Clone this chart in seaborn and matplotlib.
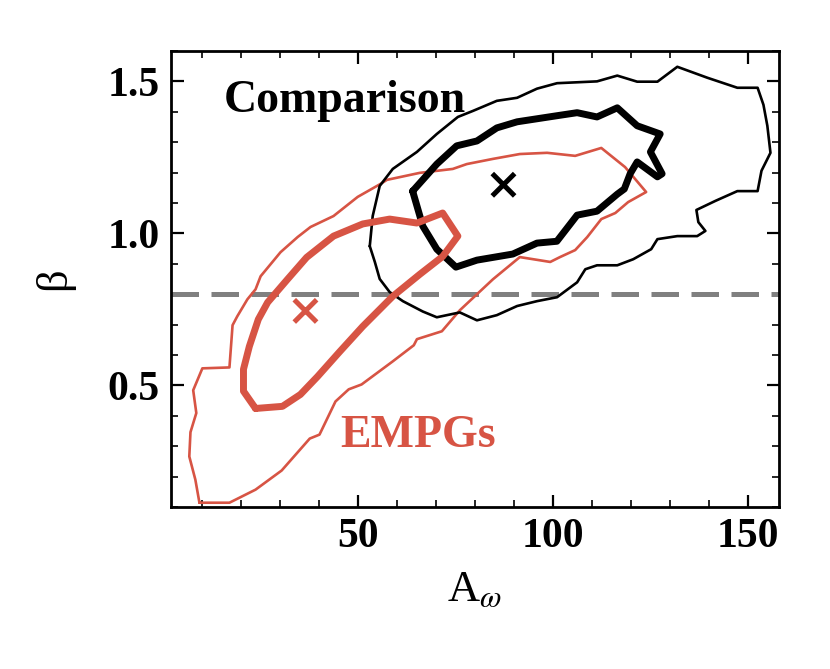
import numpy as np
import pandas as pd
import matplotlib
matplotlib.use("Agg")
import matplotlib.pyplot as plt
from matplotlib.ticker import MultipleLocator, FixedLocator
import seaborn as sns

# ---- data ----
comp_outer_x = [53.0, 53.75, 55.55, 58.9, 65.1, 70.2, 75.6, 79.5, 85.6, 90.8, 95.9, 101.05, 111.3, 116.5,
                121.6, 126.8, 131.9, 139.6, 147.3, 152.5, 154.0, 155.0, 155.8, 153.5, 152.5, 147.3, 141.7,
                136.8, 137.3, 139.1, 137.0, 131.9, 126.8, 125.2, 120.6, 116.5, 111.3, 108.3, 106.2, 101.05,
                95.9, 90.8, 85.6, 80.5, 76.1, 70.2, 66.6, 61.5, 58.1, 55.55, 54.3]
comp_outer_y = [0.958, 1.057, 1.156, 1.212, 1.268, 1.327, 1.383, 1.403, 1.436, 1.446, 1.476, 1.494, 1.500, 1.519,
                1.499, 1.499, 1.548, 1.512, 1.479, 1.479, 1.423, 1.354, 1.265, 1.206, 1.139, 1.139, 1.107,
                1.077, 1.037, 1.008, 0.991, 0.991, 0.981, 0.948, 0.915, 0.895, 0.895, 0.882, 0.839, 0.790,
                0.777, 0.761, 0.731, 0.714, 0.740, 0.724, 0.743, 0.777, 0.807, 0.850, 0.906]

comp_inner_x = [64.0, 66.6, 70.2, 75.1, 80.5, 89.7, 95.9, 101.0, 106.2, 111.3, 116.5, 118.3, 119.8, 121.6,
                126.8, 128.0, 125.0, 127.5, 121.6, 116.5, 111.3, 106.2, 101.0, 90.8, 85.6, 80.5, 75.3, 70.2]
comp_inner_y = [1.139, 1.024, 0.948, 0.889, 0.912, 0.932, 0.968, 0.974, 1.060, 1.073, 1.129, 1.146, 1.196, 1.235,
                1.186, 1.196, 1.268, 1.327, 1.354, 1.413, 1.383, 1.397, 1.387, 1.367, 1.347, 1.304, 1.288, 1.228]

empg_outer_x = [9.3, 17.0, 23.7, 30.4, 37.6, 40.1, 44.2, 47.6, 50.9, 58.9, 64.3, 65.1, 71.5, 76.1, 84.6, 91.5,
                99.3, 101.8, 105.7, 108.8, 112.4, 116.0, 119.3, 123.9, 118.5, 112.4, 105.7, 98.5, 91.5, 84.6,
                77.9, 74.3, 65.8, 57.4, 55.8, 49.9, 43.7, 37.8, 34.5, 30.1, 25.0, 23.7, 21.6, 19.0, 17.8, 17.0,
                10.05, 7.7, 8.5, 7.0, 6.7, 8.25]
empg_outer_y = [0.114, 0.114, 0.157, 0.220, 0.325, 0.338, 0.447, 0.487, 0.503, 0.579, 0.632, 0.652, 0.678, 0.747,
                0.849, 0.922, 0.906, 0.922, 0.945, 0.988, 1.047, 1.067, 1.103, 1.136, 1.218, 1.281, 1.255, 1.265,
                1.261, 1.245, 1.228, 1.212, 1.199, 1.176, 1.163, 1.120, 1.057, 1.021, 0.988, 0.938, 0.859, 0.816,
                0.783, 0.727, 0.698, 0.559, 0.556, 0.484, 0.409, 0.346, 0.266, 0.190]

empg_inner_x = [23.7, 30.6, 35.2, 39.6, 45.3, 51.2, 58.9, 65.8, 71.7, 75.6, 71.7, 65.1, 58.1, 51.2, 43.7, 36.8,
                31.9, 26.8, 24.4, 22.1, 20.6, 20.6]
empg_inner_y = [0.424, 0.431, 0.470, 0.529, 0.611, 0.694, 0.793, 0.865, 0.924, 0.991, 1.067, 1.034, 1.047, 1.031,
                0.991, 0.921, 0.849, 0.773, 0.717, 0.628, 0.553, 0.481]

best_names = ["Comparison", "EMPGs"]
best_x = [87.3, 36.5]
best_y = [1.16, 0.745]
beta_ref = 0.8

x_ticks = [50, 100, 150]
y_ticks = [0.5, 1.0, 1.5]

RED = "#d75444"
BLACK = "black"

sns.set_theme(style="ticks")
plt.rcParams["font.family"] = ["Liberation Serif", "DejaVu Serif"]
plt.rcParams["mathtext.fontset"] = "stix"
for k in ["text.color", "axes.labelcolor", "xtick.color", "ytick.color", "axes.edgecolor"]:
    plt.rcParams[k] = "black"

fig = plt.figure(figsize=(8.3, 6.69), dpi=100)
ax = fig.add_axes([0.206, 0.2422, 0.7326, 0.6816])


def closed(xs, ys):
    return pd.DataFrame({"x": list(xs) + [xs[0]], "y": list(ys) + [ys[0]]})


for xs, ys, col, lw in [
    (empg_outer_x, empg_outer_y, RED, 1.9),
    (comp_outer_x, comp_outer_y, BLACK, 1.9),
    (comp_inner_x, comp_inner_y, BLACK, 5.0),
    (empg_inner_x, empg_inner_y, RED, 5.0),
]:
    d = closed(xs, ys)
    sns.lineplot(data=d, x="x", y="y", sort=False, estimator=None, color=col, lw=lw, ax=ax)

ax.axhline(beta_ref, color="#808080", lw=3.6, dashes=(5.5, 2.5), zorder=1)

sns.scatterplot(x=best_x, y=best_y, hue=best_names, palette=[BLACK, RED], marker="x",
                s=260, linewidth=3.6, legend=False, ax=ax, zorder=5)

ax.text(15.5, 1.40, "Comparison", color=BLACK, fontsize=33, fontweight="bold",
        ha="left", va="baseline")
ax.text(45.3, 0.297, "EMPGs", color=RED, fontsize=33, fontweight="bold",
        ha="left", va="baseline")

ax.set_xlim(2, 158)
ax.set_ylim(0.1, 1.6)
ax.xaxis.set_major_locator(FixedLocator(x_ticks))
ax.yaxis.set_major_locator(FixedLocator(y_ticks))
ax.xaxis.set_minor_locator(MultipleLocator(10))
ax.yaxis.set_minor_locator(MultipleLocator(0.1))
ax.tick_params(which="both", direction="in", top=True, right=True, color="black", labelcolor="black")
ax.tick_params(which="major", length=9, width=1.6, labelsize=30, pad=8)
ax.tick_params(which="minor", length=5, width=1.2)
ax.set_xticklabels([str(v) for v in x_ticks], fontweight="bold")
ax.set_yticklabels([f"{v:.1f}" for v in y_ticks], fontweight="bold")

for s in ax.spines.values():
    s.set_linewidth(2.0)
    s.set_color("black")

ax.set_xlabel(r"A$_{\omega}$", fontsize=32, labelpad=10, color="black")
ax.set_ylabel("β", fontsize=32, labelpad=24, color="black")

fig.savefig("out.png", dpi=100)
